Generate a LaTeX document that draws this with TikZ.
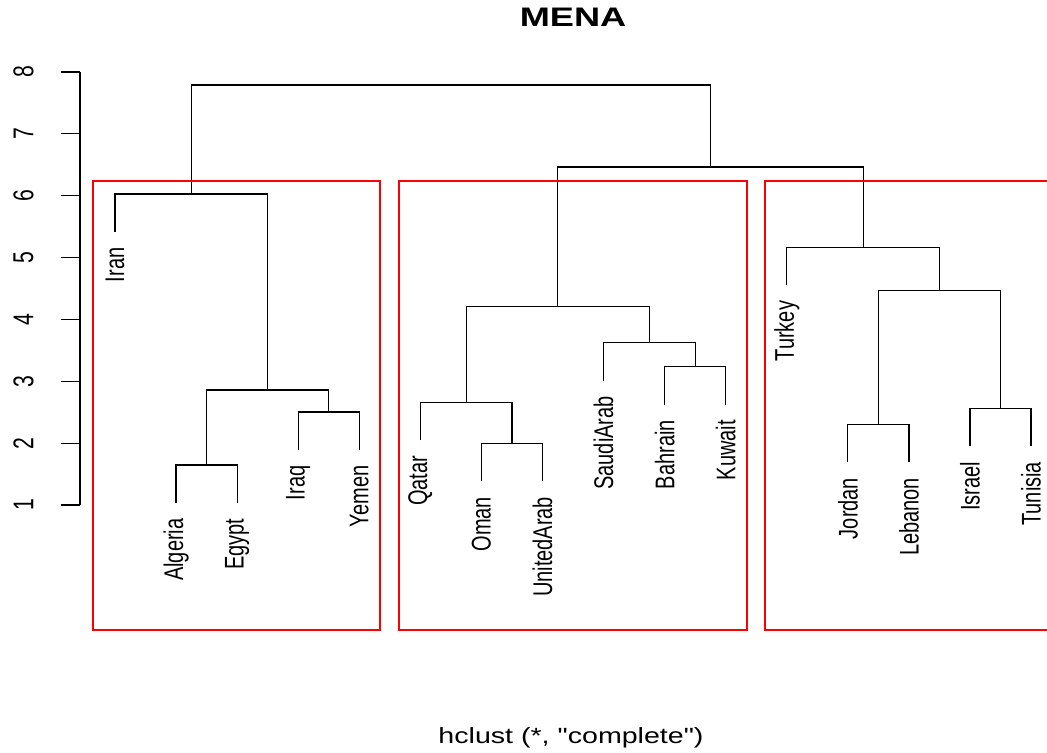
\documentclass[tikz,border=0pt]{standalone}
\usepackage{fontspec}
\setmainfont{Liberation Sans}
\newfontfamily\plainfont{Liberation Sans}

\tikzset{
    leaflab/.style = {font=\fontsize{10}{12}\selectfont, yshift=-7.5pt,
        xscale=1.35, rotate=90, anchor=east, inner sep=0pt},
    ticklab/.style = {font=\fontsize{10.6}{12}\selectfont, xshift=-18.8pt,
        xscale=1.35, rotate=90, inner sep=0pt},
    clbox/.style = {draw=red, line width=0.65pt}
}

\begin{document}
\begin{tikzpicture}[x=30.535pt, y=30.93pt, line width=0.6pt]
    \useasboundingbox (-0.883,-2.993) rectangle (16.261,9.164);
    \clip (-0.883,-2.993) rectangle (16.261,9.164);

    % title and bottom line
    \draw (8.5,8.889) node(T) [font=\fontsize{13.4}{16}\selectfont\bfseries,
        xscale=1.35] {MENA};
    \draw (8.467,-2.765) node(B) [font=\plainfont\fontsize{11}{13}\selectfont,
        xscale=1.3] {hclust (*, "complete")};

    % height axis
    \draw (0.427,1) -- (0.427,8);
    \draw (0.427,1) -- (0.116,1) node(y1) [ticklab, at end] {1};
    \draw (0.427,2) -- (0.116,2) node(y2) [ticklab, at end] {2};
    \draw (0.427,3) -- (0.116,3) node(y3) [ticklab, at end] {3};
    \draw (0.427,4) -- (0.116,4) node(y4) [ticklab, at end] {4};
    \draw (0.427,5) -- (0.116,5) node(y5) [ticklab, at end] {5};
    \draw (0.427,6) -- (0.116,6) node(y6) [ticklab, at end] {6};
    \draw (0.427,7) -- (0.116,7) node(y7) [ticklab, at end] {7};
    \draw (0.427,8) -- (0.116,8) node(y8) [ticklab, at end] {8};

    % leaf ends
    \coordinate (iran) at (1,5.413);
    \coordinate (alg) at (2,1.033);
    \coordinate (egy) at (3,1.033);
    \coordinate (irq) at (4,1.89);
    \coordinate (yem) at (5,1.89);
    \coordinate (qat) at (6,2.046);
    \coordinate (oma) at (7,1.383);
    \coordinate (uae) at (8,1.383);
    \coordinate (sau) at (9,3.01);
    \coordinate (bah) at (10,2.622);
    \coordinate (kuw) at (11,2.622);
    \coordinate (turk) at (12,4.552);
    \coordinate (jor) at (13,1.69);
    \coordinate (leb) at (14,1.69);
    \coordinate (isr) at (15,1.949);
    \coordinate (tun) at (16,1.949);

    % leaf labels
    \draw (iran) node(Liran) [leaflab] {Iran};
    \draw (alg) node(Lalg) [leaflab] {Algeria};
    \draw (egy) node(Legy) [leaflab] {Egypt};
    \draw (irq) node(Lirq) [leaflab] {Iraq};
    \draw (yem) node(Lyem) [leaflab] {Yemen};
    \draw (qat) node(Lqat) [leaflab] {Qatar};
    \draw (oma) node(Loma) [leaflab] {Oman};
    \draw (uae) node(Luae) [leaflab] {UnitedArab};
    \draw (sau) node(Lsau) [leaflab] {SaudiArab};
    \draw (bah) node(Lbah) [leaflab] {Bahrain};
    \draw (kuw) node(Lkuw) [leaflab] {Kuwait};
    \draw (turk) node(Lturk) [leaflab] {Turkey};
    \draw (jor) node(Ljor) [leaflab] {Jordan};
    \draw (leb) node(Lleb) [leaflab] {Lebanon};
    \draw (isr) node(Lisr) [leaflab] {Israel};
    \draw (tun) node(Ltun) [leaflab] {Tunisia};

    % merge points
    \coordinate (ae) at (2.5,1.647);
    \coordinate (iy) at (4.5,2.504);
    \coordinate (aeiy) at (3.5,2.860);
    \coordinate (irn) at (2.25,6.027);
    \coordinate (ou) at (7.5,1.997);
    \coordinate (qou) at (6.75,2.660);
    \coordinate (bk) at (10.5,3.236);
    \coordinate (sbk) at (9.75,3.624);
    \coordinate (gcc) at (8.25,4.21);
    \coordinate (jl) at (13.5,2.304);
    \coordinate (it) at (15.5,2.563);
    \coordinate (jlit) at (14.5,4.465);
    \coordinate (tur) at (13.25,5.166);
    \coordinate (mid) at (10.75,6.464);
    \coordinate (top) at (6.5,7.79);

    % branches
    \draw (alg) |- (ae) -| (egy);
    \draw (irq) |- (iy) -| (yem);
    \draw (ae) |- (aeiy) -| (iy);
    \draw (iran) |- (irn) -| (aeiy);
    \draw (oma) |- (ou) -| (uae);
    \draw (qat) |- (qou) -| (ou);
    \draw (bah) |- (bk) -| (kuw);
    \draw (sau) |- (sbk) -| (bk);
    \draw (qou) |- (gcc) -| (sbk);
    \draw (jor) |- (jl) -| (leb);
    \draw (isr) |- (it) -| (tun);
    \draw (jl) |- (jlit) -| (it);
    \draw (turk) |- (tur) -| (jlit);
    \draw (gcc) |- (mid) -| (tur);
    \draw (irn) |- (top) -| (mid);

    % cluster boxes
    \draw [clbox] (0.641,6.240) rectangle (5.339,-1.02);
    \draw [clbox] (5.650,6.240) rectangle (11.349,-1.02);
    \draw [clbox] (11.644,6.240) rectangle (16.6,-1.02);
\end{tikzpicture}
\end{document}
